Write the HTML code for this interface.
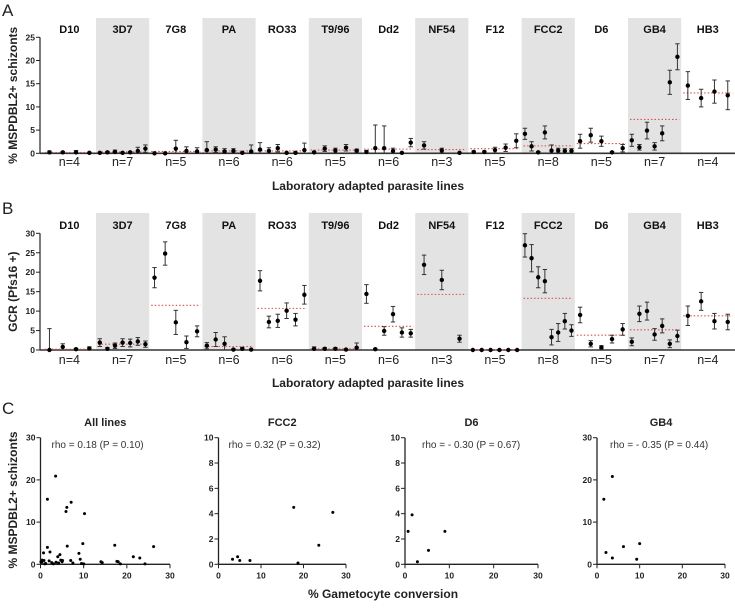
<!DOCTYPE html>
<html><head><meta charset="utf-8"><style>
body{margin:0;background:#fff;}
svg{display:block;font-family:"Liberation Sans",Arial,sans-serif;}
</style></head><body>
<svg id="fig" width="735" height="610" viewBox="0 0 735 610"></svg>
<script>
const groups=["D10","3D7","7G8","PA","RO33","T9/96","Dd2","NF54","F12","FCC2","D6","GB4","HB3"];
const nLabels=["n=4","n=7","n=5","n=6","n=6","n=5","n=6","n=3","n=5","n=8","n=5","n=7","n=4"];
const aVals=[[0.2,0.2,0.2,0.1],[0.1,0.2,0.3,0.1,0.2,0.5,1.0],[0,0,1.0,0.5,0.4],[0.7,0.8,0.4,0.5,0.1,0.4],[0.8,0.5,1.1,0.1,0.1,0.7],[0.2,1.0,0.6,1.2,0.6],[0.3,1.1,1.1,0.5,0.1,2.3],[1.7,0.6,0.1],[0.3,0.3,0.7,1.2,2.7],[4.2,1.5,0.2,4.5,0.6,0.6,0.5,0.5],[2.6,3.9,2.6,0.2,1.1],[2.8,1.3,4.9,1.5,4.3,15.3,20.8],[14.6,11.9,13.3,12.5]];
const aErr=[[0.3,0.2,0.4,0.1],[0.1,0.2,0.4,0.1,0.2,0.8,0.8],[0.1,0.1,1.8,0.9,0.8],[1.8,0.6,0.6,0.5,0.1,1.4],[1.5,0.7,0.8,0.1,0.1,1.5],[0.2,0.6,0.5,0.7,0.3],[0.3,5.0,4.8,0.6,0.1,0.9],[0.8,0.5,0.1],[0.2,0.2,0.6,0.8,1.5],[1.2,1.0,0.2,1.4,1.2,0.5,0.5,0.5],[1.5,1.5,1.1,0.2,0.8],[1.3,0.6,1.8,0.8,1.6,2.6,2.8],[3.0,1.9,2.5,3.1]];
const aMeans=[0.2,0.3,0.4,0.5,0.5,0.7,0.9,0.8,1.0,1.6,2.1,7.3,13.0];
const bVals=[[0,0.8,0.2,0.4],[1.9,0.3,1.1,1.9,1.8,2.2,1.5],[18.6,24.8,7.1,2.0,4.8],[1.1,2.7,1.6,0.1,0.3,0.1],[17.8,7.2,7.5,10.1,7.8,14.2],[0.3,0.3,0.3,0.1,0.6],[14.4,0.2,4.9,9.2,4.5,4.3],[21.9,18.0,2.9],[0,0,0,0,0,0],[26.9,23.6,18.7,17.7,3.3,4.5,7.4,5.0],[9.0,1.6,0.7,2.8,5.3],[2.1,9.3,10.0,4.0,6.2,1.6,3.6],[8.8,12.5,7.4,7.2]];
const bErr=[[5.5,0.8,0.2,0.4],[1.0,0.3,0.7,1.0,1.0,1.0,0.8],[2.6,3.0,3.1,1.6,1.4],[0.8,1.8,1.8,0.2,0.3,0.1],[2.6,1.5,1.7,2.0,1.6,2.4],[0.5,0.3,0.3,0.1,1.2],[2.4,0.2,1.1,2.0,1.2,1.0],[2.5,2.5,0.9],[0,0,0,0,0,0],[3.0,3.5,2.7,3.0,2.0,2.3,2.0,1.5],[2.0,0.8,0.4,1.0,1.5],[1.0,2.0,2.3,1.5,1.8,1.0,1.5],[2.5,2.3,2.0,2.0]];
const bMeans=[0.2,1.5,11.5,0.9,10.7,0.3,6.1,14.3,0,13.3,3.8,5.2,8.8];
const cAllX=[1.6,3.5,5.9,6.1,7.1,10.2,6.2,9.8,8.9,1.6,0.7,2.2,4.0,4.5,17.2,26.2,21.5,23.0,24.2,0.3,0.8,1.2,2.0,2.6,3.0,3.6,4.7,5.1,7.0,7.5,9.2,9.5,10.0,14.0,14.3,17.7,18.0,18.5,1.0,0.1,0.4,4.2,5.0];
const cAllY=[15.4,20.9,12.5,13.5,14.7,12.0,4.3,4.9,2.6,4.0,2.7,2.9,1.8,2.3,4.5,4.2,1.8,1.5,0.1,0.5,0.9,0.2,0.8,0.4,0.1,0.5,1.0,0.9,0.9,0.3,1.2,0.2,0.1,0.6,0.4,0.7,0.6,0.1,0.1,0.6,1.0,0.3,0.6];
const cFccX=[3.3,4.5,5.0,7.4,17.7,18.7,23.6,26.9];
const cFccY=[0.4,0.6,0.3,0.3,4.5,0.1,1.5,4.1];
const cD6X=[0.7,1.6,2.8,5.3,9.0];
const cD6Y=[2.6,3.9,0.2,1.1,2.6];
const cGbX=[1.6,2.1,3.6,3.6,6.2,9.3,10.0];
const cGbY=[15.4,2.8,20.8,1.5,4.2,1.2,4.9];
const xTicksC=[0,10,20,30];

const svg=document.getElementById('fig');
const NS='http://www.w3.org/2000/svg';
function el(tag,at,parent){const e=document.createElementNS(NS,tag);for(const k in at)e.setAttribute(k,at[k]);(parent||svg).appendChild(e);return e;}
function txt(s,at,parent){const e=el('text',at,parent);e.textContent=s;return e;}

const X0=42.8,GW=53.2;
function gx(i){return X0+i*GW;}

function dotPanel(cfg){
  const g=el('g',{});
  
  
  const y=v=>cfg.y0-(v/cfg.max)*(cfg.y0-cfg.yTop);
  // bands
  groups.forEach((gname,i)=>{
    if(i%2===1){const r=el('rect',{x:gx(i),y:cfg.bandTop,width:GW,height:cfg.y0-cfg.bandTop,fill:'#e3e3e3'},g);
      }
    const t=txt(gname,{x:gx(i)+GW/2,y:cfg.labY,'text-anchor':'middle','font-size':'11','font-weight':'bold',fill:'#111'},g);
    
    const n=txt(nLabels[i],{x:gx(i)+GW/2,y:cfg.nY,'text-anchor':'middle','font-size':'12.5',fill:'#222'},g);
    
  });
  // axes
  const ya=el('line',{x1:40,y1:cfg.yTop,x2:40,y2:cfg.y0,stroke:'#222','stroke-width':1.2},g);
  
  const xa=el('line',{x1:40,y1:cfg.y0,x2:735,y2:cfg.y0,stroke:'#333','stroke-width':1.6},g);
  
  cfg.ticks.forEach(t=>{
    el('line',{x1:36,y1:y(t),x2:40,y2:y(t),stroke:'#222','stroke-width':1},g);
    const tl=txt(String(t),{x:35,y:y(t)+3,'text-anchor':'end','font-size':'8.5','font-weight':'bold',fill:'#222'},g);
    
  });
  const yt=txt(cfg.yTitle,{x:0,y:0,transform:`translate(17,${(cfg.yTop+cfg.y0)/2}) rotate(-90)`,'text-anchor':'middle','font-size':'12','font-weight':'bold',fill:'#222'},g);
  
  const xt=txt('Laboratory adapted parasite lines',{x:368,y:cfg.xTitleY,'text-anchor':'middle','font-size':'12','font-weight':'bold',fill:'#222'},g);
  
  // means
  cfg.means.forEach((m,i)=>{
    const l=el('line',{x1:gx(i)+2,y1:y(m),x2:gx(i)+GW-2,y2:y(m),stroke:'#d9534f','stroke-width':1.1,'stroke-dasharray':'1.5,2'},g);
    
  });
  // points
  cfg.vals.forEach((arr,i)=>{
    const n=arr.length;
    arr.forEach((v,j)=>{
      const px=gx(i)+(j+0.5)*GW/n;
      const e=cfg.errs[i][j];
      if(e>0.15){
        el('line',{x1:px,y1:y(v-e<0?0:v-e),x2:px,y2:y(v+e),stroke:'#333','stroke-width':1},g);
        el('line',{x1:px-2.2,y1:y(v+e),x2:px+2.2,y2:y(v+e),stroke:'#333','stroke-width':1},g);
        if(v-e>0)el('line',{x1:px-2.2,y1:y(v-e),x2:px+2.2,y2:y(v-e),stroke:'#333','stroke-width':1},g);
      }
      const c=el('circle',{cx:px,cy:y(v),r:2.2,fill:'#000'},g);
      
    });
  });
}
dotPanel({name:'panel-a',y0:153.3,yTop:37.3,max:25,ticks:[0,5,10,15,20,25],bandTop:18,labY:33,nY:166,xTitleY:190,yTitle:'% MSPDBL2+ schizonts',vals:aVals,errs:aErr,means:aMeans});
dotPanel({name:'panel-b',y0:350,yTop:233.3,max:30,ticks:[0,5,10,15,20,25,30],bandTop:213,labY:229,nY:364,xTitleY:387,yTitle:'GCR (Pfs16 +)',vals:bVals,errs:bErr,means:bMeans});

[['A',6],['B',204],['C',404]].forEach(([s,yy])=>{
  const t=txt(s,{x:2,y:yy+10,'font-size':'17',fill:'#222'});
  
});

function scatter(cfg){
  const g=el('g',{});
  
  
  const x0=cfg.x0,x1=cfg.x1,y0=564.3,yT=437.7;
  const sx=v=>x0+v/30*(x1-x0), sy=v=>y0-v/cfg.max*(y0-yT);
  el('line',{x1:x0,y1:yT,x2:x0,y2:y0,stroke:'#222','stroke-width':1.3},g);
  el('line',{x1:x0,y1:y0,x2:x1,y2:y0,stroke:'#222','stroke-width':1.3},g);
  cfg.yt.forEach(t=>{
    el('line',{x1:x0-4,y1:sy(t),x2:x0,y2:sy(t),stroke:'#222'},g);
    const l=txt(String(t),{x:x0-5,y:sy(t)+3,'text-anchor':'end','font-size':'8.5','font-weight':'bold',fill:'#222'},g);
    
  });
  xTicksC.forEach(t=>{
    el('line',{x1:sx(t),y1:y0,x2:sx(t),y2:y0+4,stroke:'#222'},g);
    const l=txt(String(t),{x:sx(t),y:y0+14,'text-anchor':'middle','font-size':'8.5','font-weight':'bold',fill:'#222'},g);
    
  });
  const ti=txt(cfg.title,{x:(x0+x1)/2,y:426,'text-anchor':'middle','font-size':'11','font-weight':'bold',fill:'#222'},g);
  
  const r=txt(cfg.rho,{x:x0+cfg.rx,y:448,'font-size':'10',fill:'#333'},g);
  
  cfg.xs.forEach((v,i)=>{
    const c=el('circle',{cx:sx(v),cy:sy(cfg.ys[i]),r:1.5,fill:'#000'},g);
    
  });
}
scatter({name:'scatter-all-lines',x0:40.5,x1:170,max:30,yt:[0,10,20,30],title:'All lines',rho:'rho = 0.18 (P = 0.10)',rx:11,xs:cAllX,ys:cAllY});
scatter({name:'scatter-fcc2',x0:218.5,x1:346,max:10,yt:[0,2,4,6,8,10],title:'FCC2',rho:'rho = 0.32 (P = 0.32)',rx:10,xs:cFccX,ys:cFccY});
scatter({name:'scatter-d6',x0:405,x1:538,max:10,yt:[0,2,4,6,8,10],title:'D6',rho:'rho = - 0.30 (P = 0.67)',rx:17,xs:cD6X,ys:cD6Y});
scatter({name:'scatter-gb4',x0:597,x1:725,max:30,yt:[0,10,20,30],title:'GB4',rho:'rho = - 0.35 (P = 0.44)',rx:13,xs:cGbX,ys:cGbY});
const cy=txt('% MSPDBL2+ schizonts',{x:0,y:0,transform:'translate(17,500) rotate(-90)','text-anchor':'middle','font-size':'12','font-weight':'bold',fill:'#222'});

const cx=txt('% Gametocyte conversion',{x:383,y:598,'text-anchor':'middle','font-size':'12','font-weight':'bold',fill:'#222'});

</script>
</body></html>
